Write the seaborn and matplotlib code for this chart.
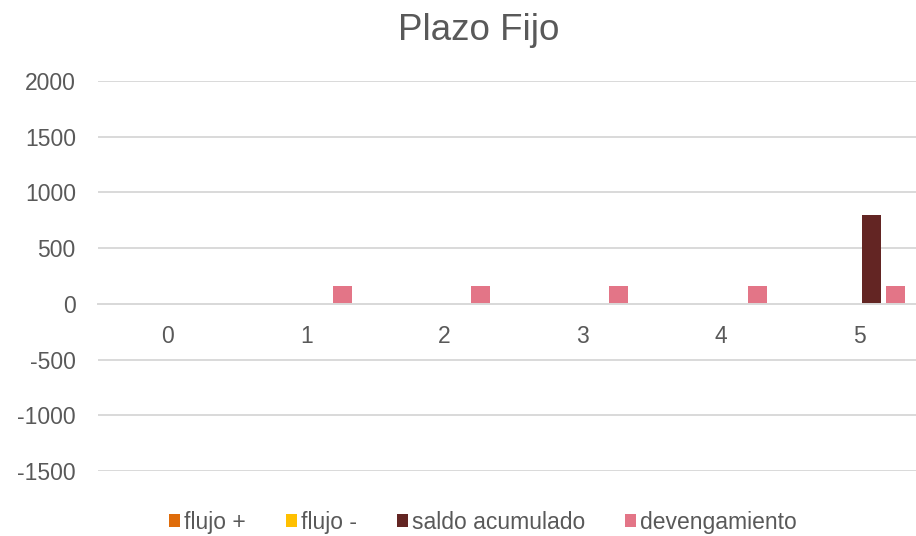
import numpy as np
import pandas as pd
import matplotlib
matplotlib.use("Agg")
import matplotlib.pyplot as plt
import seaborn as sns

# ========= DATA =========
periodos = ["0", "1", "2", "3", "4", "5"]
flujo_pos = [0, 0, 0, 0, 0, 0]
flujo_neg = [0, 0, 0, 0, 0, 0]
saldo_acumulado = [0, 0, 0, 0, 0, 800]
devengamiento = [0, 160, 160, 160, 160, 160]

series = ["flujo +", "flujo -", "saldo acumulado", "devengamiento"]
colores = ["#DF6C0A", "#FFC000", "#632523", "#E37587"]
yticks = [-1500, -1000, -500, 0, 500, 1000, 1500, 2000]

df = pd.DataFrame({
    "periodo": periodos * 4,
    "serie": np.repeat(series, len(periodos)),
    "valor": flujo_pos + flujo_neg + saldo_acumulado + devengamiento,
})

# ========= STYLE =========
sns.set_style("white")
plt.rcParams["font.family"] = ["Liberation Sans", "DejaVu Sans"]
plt.rcParams["axes.unicode_minus"] = False
gris = "#595959"
linea = "#D9D9D9"

fig = plt.figure(figsize=(9.16, 5.36), dpi=100)
ax = fig.add_axes([0.107, 0.121, 0.893, 0.728])

sns.barplot(
    data=df, x="periodo", y="valor", hue="serie",
    order=periodos, hue_order=series, palette=colores, saturation=1,
    width=0.696, gap=0.2, errorbar=None, linewidth=0, ax=ax,
)

ax.set_ylim(-1500, 2000)
ax.set_xlim(-0.506, 5.41)
ax.set_yticks(yticks)
ax.yaxis.grid(True, color=linea, linewidth=1.4)
ax.set_axisbelow(True)

for s in ["top", "right", "left"]:
    ax.spines[s].set_visible(False)
ax.spines["bottom"].set_position(("data", 0))
ax.spines["bottom"].set_color(linea)
ax.spines["bottom"].set_linewidth(1.4)

ax.tick_params(axis="x", length=0, pad=15, labelsize=16.5, colors=gris)
ax.tick_params(axis="y", length=0, pad=16, labelsize=16.5, colors=gris)
ax.set_xlabel("")
ax.set_ylabel("")

# legend at the bottom, like Excel
handles, labels = ax.get_legend_handles_labels()
ax.get_legend().remove()
fig.legend(
    handles, labels, loc="center", bbox_to_anchor=(0.527, 0.026),
    ncol=4, frameon=False, fontsize=16.5, labelcolor=gris,
    handlelength=0.5, handleheight=0.5, handletextpad=0.15,
    columnspacing=1.75,
)

fig.text(0.523, 0.944, "Plazo Fijo", ha="center", va="center",
         fontsize=26.5, color=gris)

plt.savefig("out.png", dpi=100)
